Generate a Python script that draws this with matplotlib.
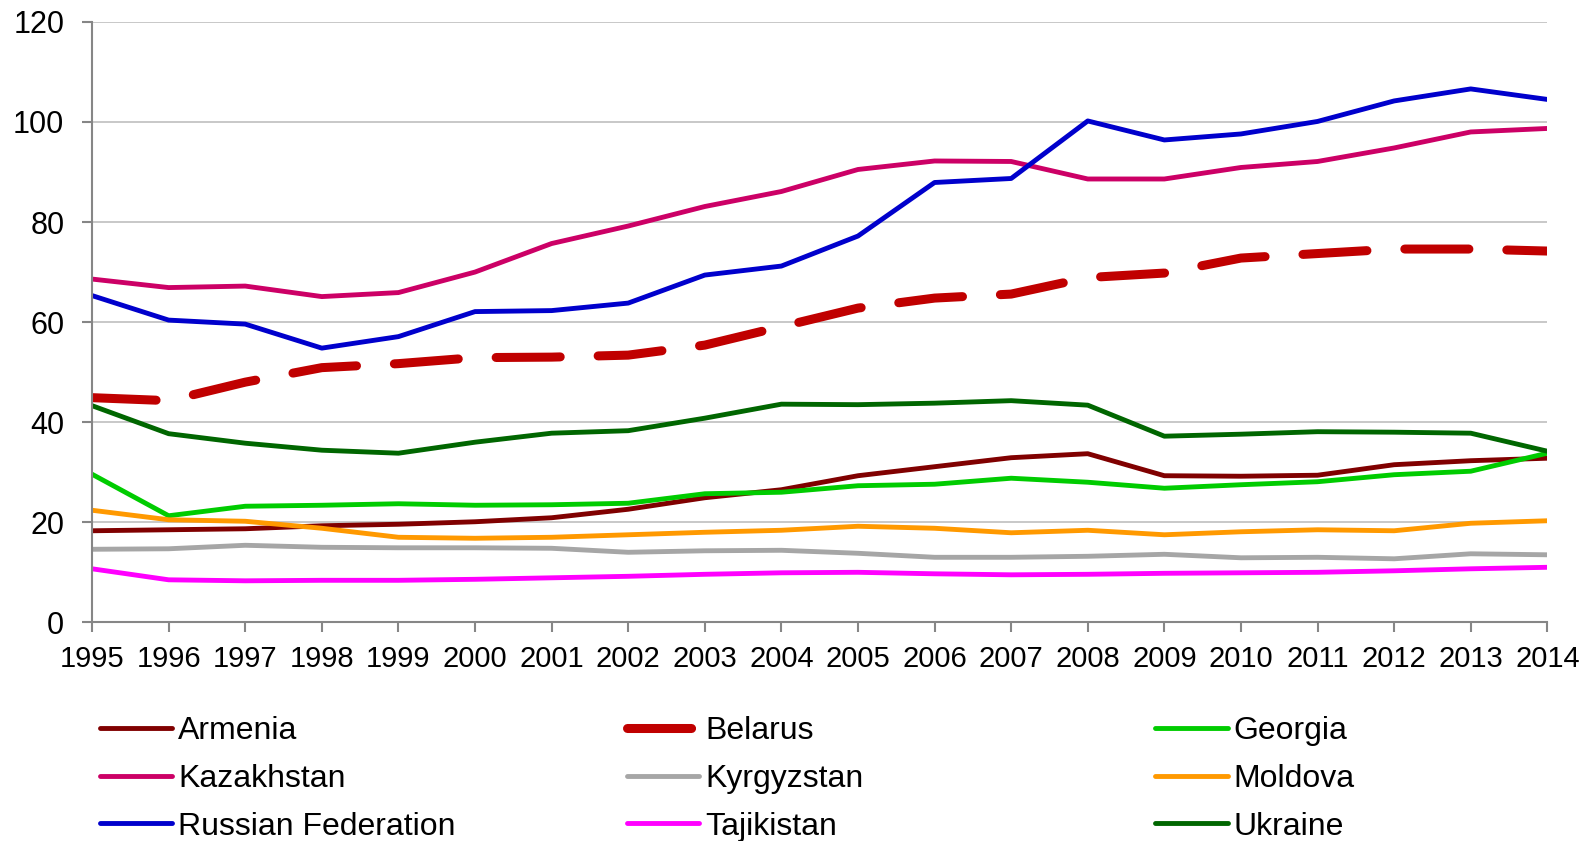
import matplotlib
matplotlib.use("Agg")
import matplotlib.pyplot as plt

plt.rcParams['font.family'] = ['Liberation Sans', 'DejaVu Sans']

years = list(range(1995, 2015))

armenia = [18.3, 18.5, 18.7, 19.3, 19.6, 20.1, 20.9, 22.6, 24.9, 26.5,
           29.3, 31.1, 32.9, 33.7, 29.3, 29.2, 29.4, 31.5, 32.3, 32.8]
belarus = [44.9, 44.3, 48.0, 50.9, 51.7, 52.9, 53.0, 53.4, 55.4, 59.1,
           62.8, 64.8, 65.6, 68.9, 69.8, 72.8, 73.7, 74.6, 74.6, 74.2]
georgia = [29.6, 21.3, 23.2, 23.4, 23.7, 23.4, 23.5, 23.8, 25.7, 26.0,
           27.3, 27.6, 28.8, 28.0, 26.8, 27.5, 28.1, 29.5, 30.2, 33.8]
kazakhstan = [68.6, 66.9, 67.2, 65.1, 65.9, 70.0, 75.7, 79.2, 83.1, 86.1,
              90.5, 92.2, 92.1, 88.6, 88.6, 90.9, 92.1, 94.8, 98.0, 98.7]
kyrgyzstan = [14.6, 14.7, 15.4, 15.0, 14.9, 14.9, 14.8, 14.0, 14.3, 14.4,
              13.8, 13.0, 13.0, 13.2, 13.6, 12.9, 13.0, 12.7, 13.7, 13.5]
moldova = [22.4, 20.5, 20.2, 18.8, 17.0, 16.8, 17.0, 17.5, 18.0, 18.4,
           19.2, 18.8, 17.9, 18.4, 17.5, 18.1, 18.5, 18.3, 19.8, 20.3]
russia = [65.3, 60.4, 59.6, 54.8, 57.1, 62.1, 62.3, 63.8, 69.4, 71.2,
          77.2, 87.9, 88.7, 100.2, 96.4, 97.6, 100.1, 104.2, 106.6, 104.5]
tajikistan = [10.7, 8.5, 8.3, 8.4, 8.4, 8.6, 8.9, 9.2, 9.6, 9.9,
              10.0, 9.7, 9.5, 9.6, 9.8, 9.9, 10.0, 10.3, 10.7, 11.0]
ukraine = [43.3, 37.7, 35.8, 34.4, 33.8, 36.0, 37.8, 38.3, 40.8, 43.6,
           43.5, 43.8, 44.3, 43.4, 37.2, 37.6, 38.1, 38.0, 37.8, 34.2]

fig = plt.figure(figsize=(15.87, 8.41), dpi=100)
ax = fig.add_axes([0.058, 0.26, 0.917, 0.714])

lw = 3.5
ax.plot(years, armenia, color='#800000', lw=lw, label='Armenia', solid_capstyle='round')
ax.plot(years, belarus, color='#C00000', lw=6.5, label='Belarus',
        dashes=(7.1, 4.2), dash_capstyle='round')
ax.plot(years, georgia, color='#00CC00', lw=lw, label='Georgia', solid_capstyle='round')
ax.plot(years, kazakhstan, color='#CC0066', lw=lw, label='Kazakhstan', solid_capstyle='round')
ax.plot(years, kyrgyzstan, color='#A6A6A6', lw=lw, label='Kyrgyzstan', solid_capstyle='round')
ax.plot(years, moldova, color='#FF9900', lw=lw, label='Moldova', solid_capstyle='round')
ax.plot(years, russia, color='#0000CC', lw=lw, label='Russian Federation', solid_capstyle='round')
ax.plot(years, tajikistan, color='#FF00FF', lw=lw, label='Tajikistan', solid_capstyle='round')
ax.plot(years, ukraine, color='#006600', lw=lw, label='Ukraine', solid_capstyle='round')

ax.set_xlim(1995, 2014)
ax.set_ylim(0, 120)
ax.set_xticks(years)
ax.set_yticks(range(0, 121, 20))
ax.grid(axis='y', color='#BFBFBF', lw=1.2)
ax.set_axisbelow(True)
for s in ['top', 'right']:
    ax.spines[s].set_visible(False)
for s in ['left', 'bottom']:
    ax.spines[s].set_color('#868686')
    ax.spines[s].set_linewidth(1.5)
ax.tick_params(axis='both', direction='out', length=7, width=1.5, color='#868686')
ax.tick_params(axis='x', pad=9, labelsize=21)
ax.tick_params(axis='y', pad=13, labelsize=22)

# legend: three equal-width columns, one legend per column
handles, labels = ax.get_legend_handles_labels()
col_x = [0.063, 0.395, 0.728]
for c in range(3):
    idx = [c, c + 3, c + 6]
    leg = fig.legend([handles[i] for i in idx], [labels[i] for i in idx],
                     loc='center left', bbox_to_anchor=(col_x[c], 0.074),
                     frameon=False, fontsize=23, handlelength=2.26,
                     handletextpad=0.19, labelspacing=0.56,
                     borderaxespad=0, borderpad=0)

fig.savefig('out.png', dpi=100)
